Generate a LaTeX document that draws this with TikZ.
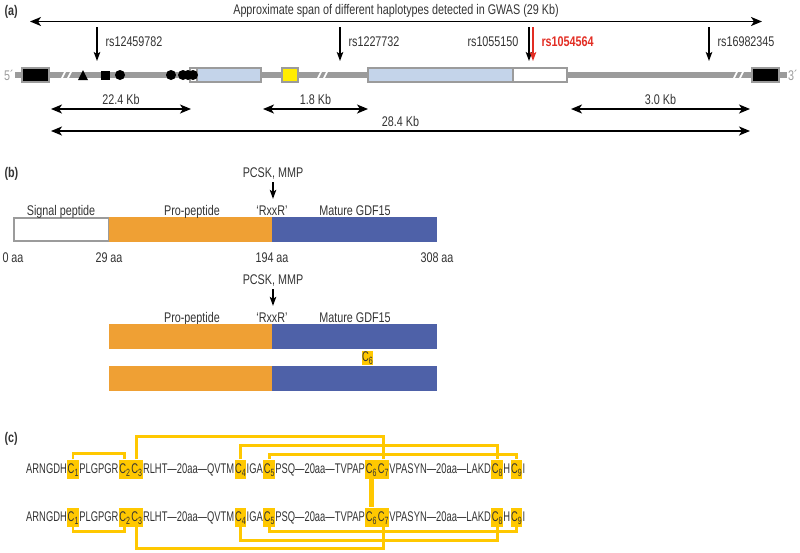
\documentclass[tikz,border=0pt]{standalone}
\usepackage{fontspec}
\setmainfont{Liberation Sans}[FakeStretch=0.77]
\newfontfamily\seqfont{Liberation Sans}[FakeStretch=0.67,Ligatures=TeX]
\usetikzlibrary{positioning,arrows.meta}
\definecolor{gris}{RGB}{155,155,155}
\definecolor{bleuclair}{RGB}{196,212,234}
\definecolor{jaune}{RGB}{255,236,0}
\definecolor{orange}{RGB}{239,160,52}
\definecolor{bleu}{RGB}{78,97,168}
\definecolor{ocre}{RGB}{255,200,0}
\definecolor{rouge}{RGB}{226,45,35}
% cysteine avec indice
\def\cy#1{C\raisebox{-3pt}{\fontsize{10.5}{10}\selectfont#1}}
% une ligne de sequence (#1 suffixe, #2 ligne de base)
\def\ligne#1#2{%
	\node[seq,anchor=base west] (s0#1) at (26,#2) {ARNGDH};
	\node[cys,base right=0pt of s0#1] (c1#1) {\cy1};
	\node[seq,base right=0pt of c1#1] (s1#1) {PLGPGR};
	\node[cys,base right=0pt of s1#1] (c2#1) {\cy2};
	\node[cys,base right=0pt of c2#1] (c3#1) {\cy3};
	\node[seq,base right=0pt of c3#1] (s3#1) {RLHT—20aa—QVTM};
	\node[cys,base right=0pt of s3#1] (c4#1) {\cy4};
	\node[seq,base right=0pt of c4#1] (s4#1) {IGA};
	\node[cys,base right=0pt of s4#1] (c5#1) {\cy5};
	\node[seq,base right=0pt of c5#1] (s5#1) {PSQ—20aa—TVPAP};
	\node[cys,base right=0pt of s5#1] (c6#1) {\cy6};
	\node[cys,base right=0pt of c6#1] (c7#1) {\cy7};
	\node[seq,base right=0pt of c7#1] (s7#1) {VPASYN—20aa—LAKD};
	\node[cys,base right=0pt of s7#1] (c8#1) {\cy8};
	\node[seq,base right=0pt of c8#1] (s8#1) {H};
	\node[cys,base right=0pt of s8#1] (c9#1) {\cy9};
	\node[seq,base right=0pt of c9#1] (s9#1) {I};
}
% ponts disulfure (dessus / dessous)
\def\pontH#1#2#3{\draw[pont] (#1.north) -- ++(0,#3) -| (#2.north);}
\def\pontB#1#2#3{\draw[pont] (#1.south) -- ++(0,#3) -| (#2.south);}

\begin{document}
\begin{tikzpicture}[x=1pt,y=-1pt,font=\fontsize{14}{16}\selectfont,text=black!80,
	>={Stealth[length=11pt,width=9pt,inset=3pt]},
	cote/.style={<->,line width=1.8pt},
	snp/.style={->,line width=1.4pt,>={Stealth[length=9pt,width=6.5pt,inset=2pt]}},
	exon/.style={draw=gris,line width=2.5pt},
	seq/.style={inner sep=0pt,text height=12.5pt,text depth=4.5pt,font=\fontsize{14}{16}\seqfont},
	cys/.style={seq,fill=ocre,inner xsep=0.5pt,inner ysep=1pt},
	pont/.style={draw=ocre,line width=2.8pt}]
	\useasboundingbox (0,0) rectangle (800,552);
	% Dimensions
	\def\yg{75} \def\ysnp{27} \def\ybas{61}
%
% (a) gene
	\node[font=\fontsize{14}{16}\selectfont\bfseries,anchor=base west] (pa) at (1,15) {(a)};
	\coordinate (hg) at (30,21.5); \coordinate (hd) at (762,21.5);
	\draw[cote] (hg) -- (hd) node[midway,above] {Approximate span of different haplotypes detected in GWAS (29 Kb)};
% ligne du gene et coupures
	\draw[gris,line width=6pt] (15,\yg) -- (787,\yg);
	\foreach \bx in {64,320,736}{
		\draw[white,line width=1.6pt] (\bx-3,\yg+5) -- (\bx+2,\yg-5) (\bx+3,\yg+5) -- (\bx+8,\yg-5);
	};
	\node[gris,anchor=base] (cinq) at (9,80) {5´};
	\node[gris,anchor=base] (trois) at (793,80) {3´};
% exons
	\draw[exon,fill=black] (22,68) rectangle (49,82);
	\draw[exon,fill=bleuclair] (190,68) rectangle (261,82);
	\draw[exon,fill=white] (190,68) rectangle (197,82);
	\draw[exon,fill=jaune] (282,68) rectangle (298,82);
	\draw[exon,fill=bleuclair] (368,68) rectangle (513,82);
	\draw[exon,fill=white] (513,68) rectangle (567,82);
	\draw[exon,fill=black] (752,68) rectangle (779,82);
% marqueurs
	\fill (78,80) -- (88,80) -- (83,70) -- cycle;
	\fill (101,71) rectangle (110,80);
	\foreach \cx in {120,171,183,188,193}{\fill (\cx,\yg) circle (5);};
% SNP
	\foreach \x/\nom in {97/rs12459782,340/rs1227732,709/rs16982345}{
		\coordinate (t\nom) at (\x,\ysnp); \coordinate (b\nom) at (\x,\ybas);
		\draw[snp] (t\nom) -- (b\nom);
		\node[anchor=base west] (l\nom) at (\x+5,46) {\nom};
	};
	\coordinate (trs1055150) at (529,\ysnp); \coordinate (brs1055150) at (529,\ybas);
	\draw[snp] (trs1055150) -- (brs1055150);
	\node[anchor=base east] (lrs1055150) at (522,46) {rs1055150};
	\coordinate (trs1054564) at (533,\ysnp); \coordinate (brs1054564) at (533,\ybas);
	\draw[snp,rouge] (trs1054564) -- (brs1054564);
	\node[anchor=base west,text=rouge,font=\fontsize{14}{16}\selectfont\bfseries] (lrs1054564) at (538,46) {rs1054564};
% distances
	\coordinate (d1g) at (51,109); \coordinate (d1d) at (191,109);
	\coordinate (d2g) at (263,109); \coordinate (d2d) at (368,109);
	\coordinate (d3g) at (571,109); \coordinate (d3d) at (750,109);
	\coordinate (d4g) at (51,131); \coordinate (d4d) at (750,131);
	\draw[cote] (d1g) -- (d1d) node[midway,above] {22.4 Kb};
	\draw[cote] (d2g) -- (d2d) node[midway,above] {1.8 Kb};
	\draw[cote] (d3g) -- (d3d) node[midway,above] {3.0 Kb};
	\draw[cote] (d4g) -- (d4d) node[midway,above] {28.4 Kb};
%
% (b) proteine
	\node[font=\fontsize{14}{16}\selectfont\bfseries,anchor=base west] (pb) at (1,177) {(b)};
	\draw[gris,line width=1.5pt,fill=white] (14,218) rectangle (109,241);
	\fill[orange] (109,217) rectangle (272,242);
	\fill[bleu] (272,217) rectangle (437,242);
	\node[anchor=base] (sig) at (61,215) {Signal peptide};
	\node[anchor=base] (pro1) at (192,215) {Pro-peptide};
	\node[anchor=base] (rx1) at (272,215) {`RxxR'};
	\node[anchor=base] (mat1) at (355,215) {Mature GDF15};
	\node[anchor=base] (pc1) at (273,177) {PCSK, MMP};
	\draw[snp,shorten >=3pt] (pc1) -- (pc1 |- rx1.north);
	\foreach \ax/\aa in {13/0,109/29,272/194,437/308}{
		\node[anchor=base] (aa\aa) at (\ax,262) {\aa\ aa};
	};
% forme clivee (dimere)
	\node[anchor=base] (pc2) at (273,284) {PCSK, MMP};
	\node[anchor=base] (pro2) at (192,322) {Pro-peptide};
	\node[anchor=base] (rx2) at (272,322) {`RxxR'};
	\node[anchor=base] (mat2) at (355,322) {Mature GDF15};
	\draw[snp,shorten >=3pt] (pc2) -- (pc2 |- rx2.north);
	\foreach \yb in {324,366}{
		\fill[orange] (109,\yb) rectangle (272,\yb+25);
		\fill[bleu] (272,\yb) rectangle (437,\yb+25);
	};
	\node[fill=ocre,inner sep=0.3pt,text height=10pt,text depth=3pt,font=\fontsize{14}{16}\seqfont] (c6p) at (367.5,358) {\cy6};
%
% (c) ponts disulfure
	\node[font=\fontsize{14}{16}\selectfont\bfseries,anchor=base west] (pc) at (1,442) {(c)};
	\ligne{a}{473}
	\ligne{b}{521}
	\pontH{c1a}{c2a}{-6} \pontH{c3a}{c7a}{-23} \pontH{c4a}{c8a}{-14} \pontH{c5a}{c9a}{-5}
	\pontB{c1b}{c2b}{5} \pontB{c3b}{c7b}{22} \pontB{c4b}{c8b}{14} \pontB{c5b}{c9b}{5}
	\draw[pont,line width=5pt] (c6a.south) -- (c6b.north);

\end{tikzpicture}
\end{document}
